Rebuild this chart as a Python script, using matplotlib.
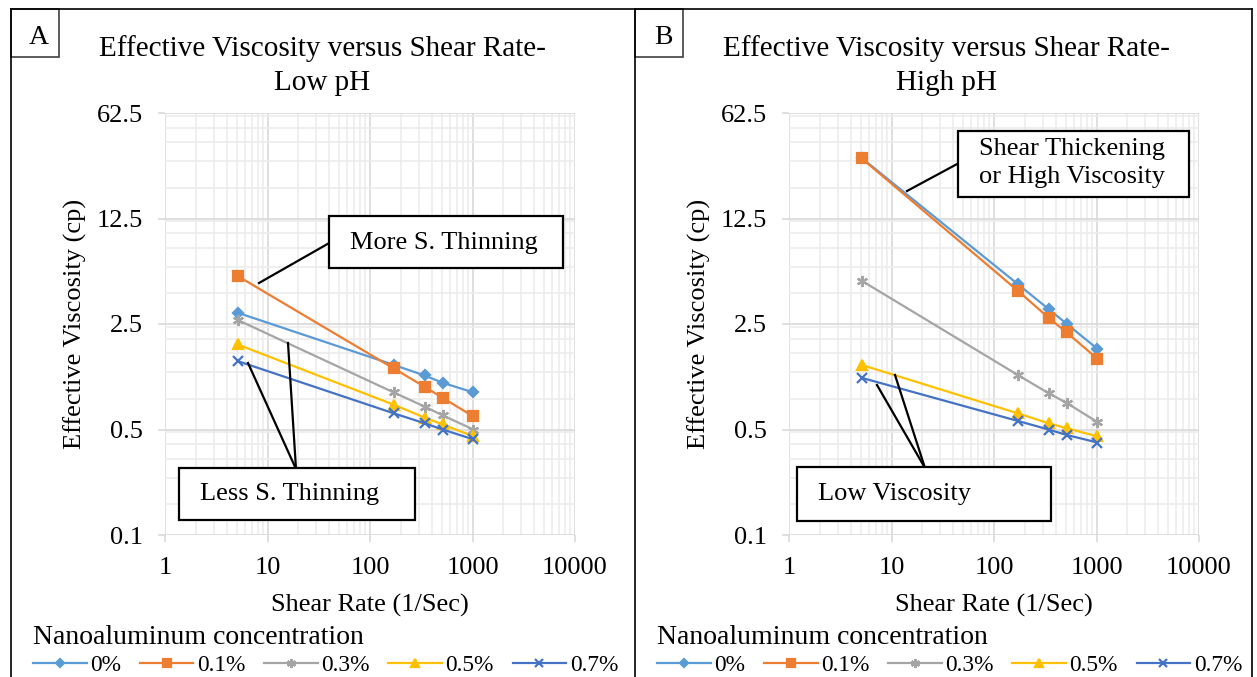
import numpy as np
import matplotlib
matplotlib.use("Agg")
import matplotlib.pyplot as plt
from matplotlib.lines import Line2D
from matplotlib.patches import Rectangle

plt.rcParams["font.family"] = ["Liberation Serif", "DejaVu Serif"]

W, H = 1257, 677
def fx(x): return x / W
def fy(y): return 1 - y / H

# ---------- data ----------
shear = [5.11, 170.3, 340.6, 510.9, 1021.8]
labels = ["0%", "0.1%", "0.3%", "0.5%", "0.7%"]

low_0 = [2.97, 1.34, 1.14, 1.02, 0.88]
low_01 = [5.2, 1.27, 0.96, 0.81, 0.61]
low_03 = [2.66, 0.88, 0.71, 0.62, 0.50]
low_05 = [1.83, 0.73, 0.60, 0.54, 0.45]
low_07 = [1.42, 0.64, 0.55, 0.50, 0.43]

high_0 = [31.5, 4.6, 3.14, 2.51, 1.71]
high_01 = [31.3, 4.16, 2.75, 2.2, 1.47]
high_03 = [4.84, 1.15, 0.87, 0.75, 0.56]
high_05 = [1.34, 0.64, 0.55, 0.51, 0.45]
high_07 = [1.10, 0.57, 0.50, 0.46, 0.41]

y_major = [0.1, 0.5, 2.5, 12.5, 62.5]
y_labels = ["0.1", "0.5", "2.5", "12.5", "62.5"]
x_major = [1, 10, 100, 1000, 10000]
x_labels = ["1", "10", "100", "1000", "10000"]

COL = ["#5B9BD5", "#ED7D31", "#A5A5A5", "#FFC000", "#4472C4"]
MK = [("D", 5.5), ("s", 7), ((6, 2, 0), 8), ("^", 7), ("x", 6.5)]

fig = plt.figure(figsize=(W / 100, H / 100), dpi=100)


def panel(x0, series, title):
    ax = fig.add_axes([fx(x0), fy(535), 410 / W, (535 - 113) / H])
    for k, vals in enumerate(series):
        m, ms = MK[k]
        ax.plot(shear, vals, color=COL[k], lw=1.6, marker=m, ms=ms,
                mec=COL[k], mfc=COL[k], mew=1.6, label=labels[k], zorder=3)
    ax.set_xscale("log")
    ax.set_yscale("log", base=5)
    ax.set_xlim(1, 10000); ax.set_ylim(0.1, 62.5)
    ax.set_xticks(x_major); ax.set_xticklabels(x_labels)
    ax.set_yticks(y_major); ax.set_yticklabels(y_labels)
    ax.set_xticks([d * k for d in x_major[:-1] for k in range(2, 10)], minor=True)
    ax.set_yticks([m * k for m in y_major[:-1] for k in (1.6, 2.4, 3.2, 4.0, 4.8)], minor=True)
    ax.tick_params(which="major", labelsize=19, color="#d9d9d9", length=5, width=1.2, pad=11)
    ax.tick_params(which="minor", length=0, labelleft=False, labelbottom=False)
    ax.grid(which="major", color="#d9d9d9", lw=1.2)
    ax.grid(which="minor", color="#ececec", lw=1.2)
    ax.set_axisbelow(True)
    for s in ax.spines.values():
        s.set_visible(False)
    ax.set_xlabel("Shear Rate (1/Sec)", fontsize=19)
    ax.xaxis.set_label_coords(0.5, -(605 - 535) / 422)
    ax.xaxis.label.set_va("center")
    ax.set_ylabel("Effective Viscosity (cp)", fontsize=19)
    ax.yaxis.set_label_coords(-(165 - 75) / 410, 0.5)
    ax.yaxis.label.set_va("center")
    fig.text(fx(x0 + 157), fy(66), title, ha="center", va="center", fontsize=21,
             linespacing=1.4)
    fig.text(fx(x0 - 132), fy(638), "Nanoaluminum concentration", ha="left",
             va="center", fontsize=20)
    h, l = ax.get_legend_handles_labels()
    fig.legend(h, l, ncol=5, loc="center left", bbox_to_anchor=(fx(x0 - 132), fy(665)),
               frameon=False, fontsize=16.8, handlelength=2.3, handletextpad=0.15,
               columnspacing=0.8, borderpad=0, borderaxespad=0, markerscale=0.8)
    return ax


def box(x0, y0, x1, y1, text, tx, ty):
    fig.add_artist(Rectangle((fx(x0), fy(y1)), fx(x1) - fx(x0), fy(y0) - fy(y1),
                             transform=fig.transFigure, facecolor="white",
                             edgecolor="black", lw=1.6, zorder=5))
    fig.text(fx(tx), fy(ty), text, ha="left", va="center", fontsize=19,
             linespacing=1.4, zorder=6)


def seg(p, q):
    fig.add_artist(Line2D([fx(p[0]), fx(q[0])], [fy(p[1]), fy(q[1])],
                          transform=fig.transFigure, color="black", lw=1.6, zorder=4))


panel(165, [low_0, low_01, low_03, low_05, low_07],
      "Effective Viscosity versus Shear Rate-\nLow pH")
panel(789, [high_0, high_01, high_03, high_05, high_07],
      "Effective Viscosity versus Shear Rate-\nHigh pH")

# callouts
seg((259, 283), (331, 242))
box(329, 216, 563, 268, "More S. Thinning", 350, 243)
seg((288, 343), (296, 469)); seg((248, 363), (296, 469))
box(179, 468, 415, 520, "Less S. Thinning", 200, 494)
seg((907, 191), (959, 163))
box(958, 131, 1189, 197, "Shear Thickening\nor High Viscosity", 979, 163)
seg((877, 385), (925, 468)); seg((895, 375), (925, 468))
box(797, 467, 1051, 521, "Low Viscosity", 818, 494)

# panel frame and labels
for p, q in [((11, 9), (1252, 9)), ((11, 9), (11, 677)), ((635, 9), (635, 677)),
             ((1252, 9), (1252, 677))]:
    fig.add_artist(Line2D([fx(p[0]), fx(q[0])], [fy(p[1]), fy(q[1])],
                          transform=fig.transFigure, color="black", lw=1.2))
for x0, t in [(11, "A"), (635, "B")]:
    fig.add_artist(Rectangle((fx(x0), fy(57)), 48 / W, 48 / H, transform=fig.transFigure,
                             facecolor="white", edgecolor="#404040", lw=1.2))
    fig.text(fx(x0 + 28), fy(38), t, ha="center", va="center", fontsize=20)

fig.savefig("out.png", dpi=100)
